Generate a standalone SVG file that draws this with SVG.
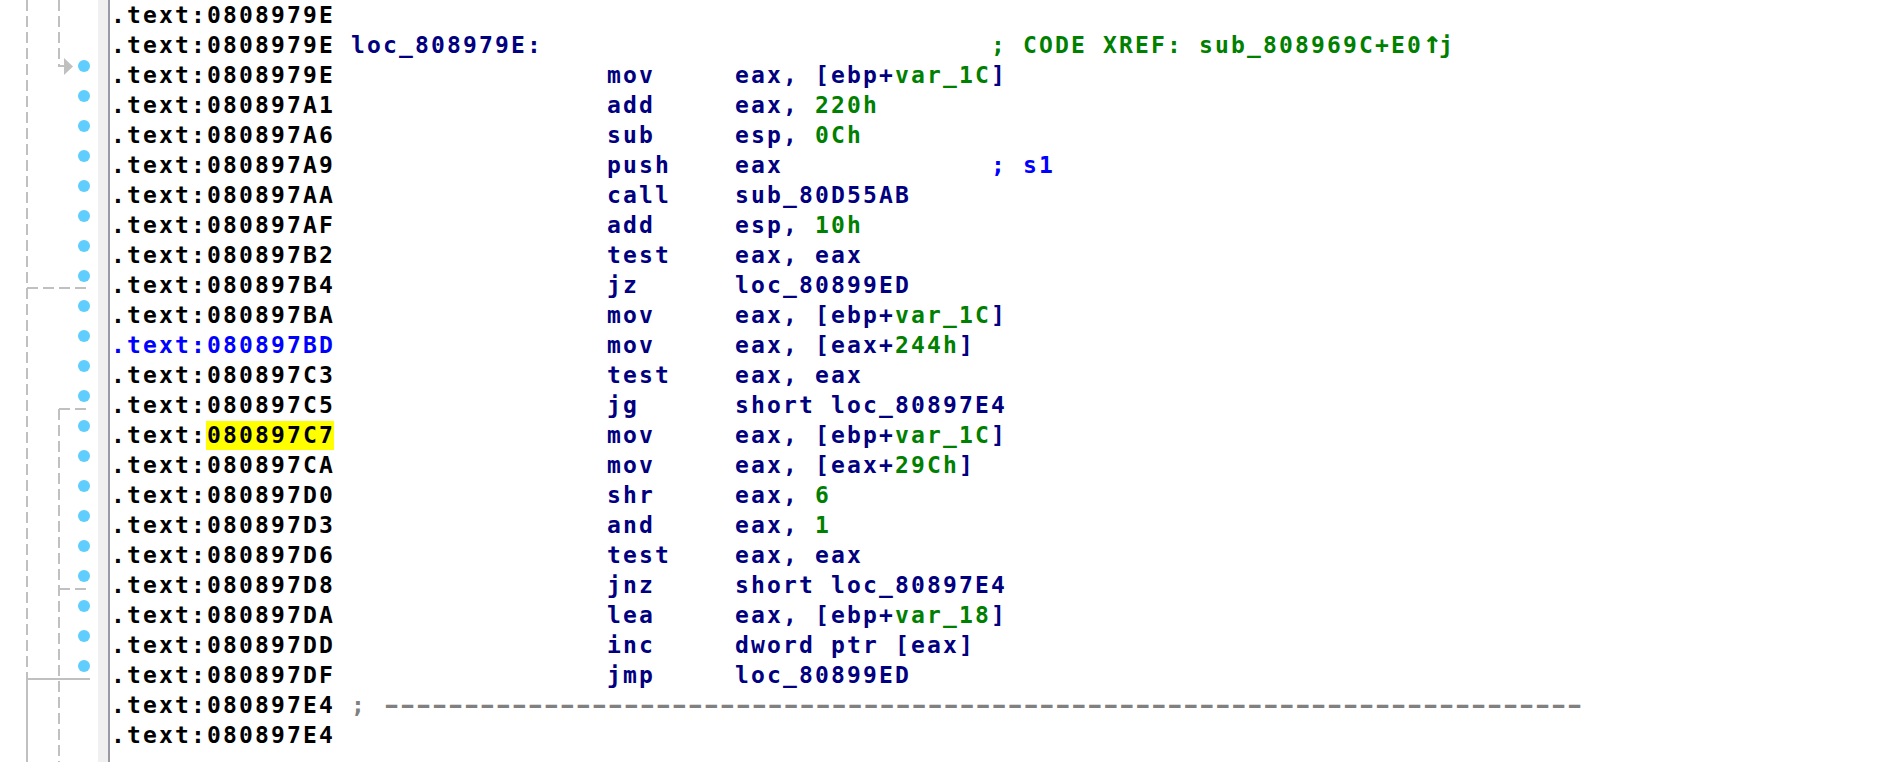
<svg xmlns="http://www.w3.org/2000/svg" width="1884" height="762" viewBox="0 0 1884 762">
<style>
text{font-family:"DejaVu Sans Mono","Liberation Mono",monospace;font-size:23px;font-weight:bold;letter-spacing:2.15px;white-space:pre}
.a{fill:#000000}
.n{fill:#000080}
.g{fill:#008000}
.b{fill:#0000ff}
.s{fill:#808080}
.up{font-size:31px;letter-spacing:-2.66px}
.sep{letter-spacing:-3.85px}
.dash{stroke:#c0c0c0;stroke-width:2;stroke-dasharray:11 5;fill:none}
.sol{stroke:#c0c0c0;stroke-width:2;fill:none}
.dot{fill:#5fcdfd}
</style>
<rect x="0" y="0" width="1884" height="762" fill="#ffffff"/>
<rect x="98" y="0" width="10" height="762" fill="#f0f0f0"/>
<line x1="109" y1="0" x2="109" y2="762" stroke="#9a9aa6" stroke-width="2"/>
<g id="connectors">
<line class="dash" x1="27" y1="0" x2="27" y2="679"/>
<line class="sol" x1="27" y1="679" x2="27" y2="762"/>
<line class="dash" x1="27" y1="288" x2="90" y2="288"/>
<line class="sol" x1="27" y1="679" x2="90" y2="679"/>
<line class="dash" x1="59" y1="0" x2="59" y2="66"/>
<line class="sol" x1="58" y1="66" x2="65" y2="66"/>
<polygon points="64,58 73,66.5 64,75" fill="#c0c0c0"/>
<line class="dash" x1="59" y1="409" x2="88" y2="409"/>
<line class="dash" x1="59" y1="409" x2="59" y2="762"/>
<line class="dash" x1="59" y1="589" x2="88" y2="589"/>
</g>
<g id="dots">
<circle class="dot" cx="84" cy="66" r="6"/>
<circle class="dot" cx="84" cy="96" r="6"/>
<circle class="dot" cx="84" cy="126" r="6"/>
<circle class="dot" cx="84" cy="156" r="6"/>
<circle class="dot" cx="84" cy="186" r="6"/>
<circle class="dot" cx="84" cy="216" r="6"/>
<circle class="dot" cx="84" cy="246" r="6"/>
<circle class="dot" cx="84" cy="276" r="6"/>
<circle class="dot" cx="84" cy="306" r="6"/>
<circle class="dot" cx="84" cy="336" r="6"/>
<circle class="dot" cx="84" cy="366" r="6"/>
<circle class="dot" cx="84" cy="396" r="6"/>
<circle class="dot" cx="84" cy="426" r="6"/>
<circle class="dot" cx="84" cy="456" r="6"/>
<circle class="dot" cx="84" cy="486" r="6"/>
<circle class="dot" cx="84" cy="516" r="6"/>
<circle class="dot" cx="84" cy="546" r="6"/>
<circle class="dot" cx="84" cy="576" r="6"/>
<circle class="dot" cx="84" cy="606" r="6"/>
<circle class="dot" cx="84" cy="636" r="6"/>
<circle class="dot" cx="84" cy="666" r="6"/>
</g>
<rect x="206" y="421" width="128" height="29" fill="#ffff00"/>
<g id="row0"><text class="a" x="111" y="23.3">.text:0808979E</text></g>
<g id="row1"><text class="a" x="111" y="53.3">.text:0808979E</text><text class="n" x="351" y="53.3">loc_808979E:</text><text class="g" x="991" y="53.3">; CODE XREF: sub_808969C+E0<tspan class="up">↑</tspan>j</text></g>
<g id="row2"><text class="a" x="111" y="83.3">.text:0808979E</text><text class="n" x="607" y="83.3">mov</text><text class="n" x="735" y="83.3">eax, [ebp+<tspan class="g">var_1C</tspan>]</text></g>
<g id="row3"><text class="a" x="111" y="113.3">.text:080897A1</text><text class="n" x="607" y="113.3">add</text><text class="n" x="735" y="113.3">eax, <tspan class="g">220h</tspan></text></g>
<g id="row4"><text class="a" x="111" y="143.3">.text:080897A6</text><text class="n" x="607" y="143.3">sub</text><text class="n" x="735" y="143.3">esp, <tspan class="g">0Ch</tspan></text></g>
<g id="row5"><text class="a" x="111" y="173.3">.text:080897A9</text><text class="n" x="607" y="173.3">push</text><text class="n" x="735" y="173.3">eax</text><text class="b" x="991" y="173.3">; s1</text></g>
<g id="row6"><text class="a" x="111" y="203.3">.text:080897AA</text><text class="n" x="607" y="203.3">call</text><text class="n" x="735" y="203.3">sub_80D55AB</text></g>
<g id="row7"><text class="a" x="111" y="233.3">.text:080897AF</text><text class="n" x="607" y="233.3">add</text><text class="n" x="735" y="233.3">esp, <tspan class="g">10h</tspan></text></g>
<g id="row8"><text class="a" x="111" y="263.3">.text:080897B2</text><text class="n" x="607" y="263.3">test</text><text class="n" x="735" y="263.3">eax, eax</text></g>
<g id="row9"><text class="a" x="111" y="293.3">.text:080897B4</text><text class="n" x="607" y="293.3">jz</text><text class="n" x="735" y="293.3">loc_80899ED</text></g>
<g id="row10"><text class="a" x="111" y="323.3">.text:080897BA</text><text class="n" x="607" y="323.3">mov</text><text class="n" x="735" y="323.3">eax, [ebp+<tspan class="g">var_1C</tspan>]</text></g>
<g id="row11"><text class="b" x="111" y="353.3">.text:080897BD</text><text class="n" x="607" y="353.3">mov</text><text class="n" x="735" y="353.3">eax, [eax+<tspan class="g">244h</tspan>]</text></g>
<g id="row12"><text class="a" x="111" y="383.3">.text:080897C3</text><text class="n" x="607" y="383.3">test</text><text class="n" x="735" y="383.3">eax, eax</text></g>
<g id="row13"><text class="a" x="111" y="413.3">.text:080897C5</text><text class="n" x="607" y="413.3">jg</text><text class="n" x="735" y="413.3">short loc_80897E4</text></g>
<g id="row14"><text class="a" x="111" y="443.3">.text:080897C7</text><text class="n" x="607" y="443.3">mov</text><text class="n" x="735" y="443.3">eax, [ebp+<tspan class="g">var_1C</tspan>]</text></g>
<g id="row15"><text class="a" x="111" y="473.3">.text:080897CA</text><text class="n" x="607" y="473.3">mov</text><text class="n" x="735" y="473.3">eax, [eax+<tspan class="g">29Ch</tspan>]</text></g>
<g id="row16"><text class="a" x="111" y="503.3">.text:080897D0</text><text class="n" x="607" y="503.3">shr</text><text class="n" x="735" y="503.3">eax, <tspan class="g">6</tspan></text></g>
<g id="row17"><text class="a" x="111" y="533.3">.text:080897D3</text><text class="n" x="607" y="533.3">and</text><text class="n" x="735" y="533.3">eax, <tspan class="g">1</tspan></text></g>
<g id="row18"><text class="a" x="111" y="563.3">.text:080897D6</text><text class="n" x="607" y="563.3">test</text><text class="n" x="735" y="563.3">eax, eax</text></g>
<g id="row19"><text class="a" x="111" y="593.3">.text:080897D8</text><text class="n" x="607" y="593.3">jnz</text><text class="n" x="735" y="593.3">short loc_80897E4</text></g>
<g id="row20"><text class="a" x="111" y="623.3">.text:080897DA</text><text class="n" x="607" y="623.3">lea</text><text class="n" x="735" y="623.3">eax, [ebp+<tspan class="g">var_18</tspan>]</text></g>
<g id="row21"><text class="a" x="111" y="653.3">.text:080897DD</text><text class="n" x="607" y="653.3">inc</text><text class="n" x="735" y="653.3">dword ptr [eax]</text></g>
<g id="row22"><text class="a" x="111" y="683.3">.text:080897DF</text><text class="n" x="607" y="683.3">jmp</text><text class="n" x="735" y="683.3">loc_80899ED</text></g>
<g id="row23"><text class="a" x="111" y="713.3">.text:080897E4</text><text class="s" x="351" y="713.3">;</text><text class="s sep" transform="scale(1.6,1)" x="237.8" y="713.3">---------------------------------------------------------------------------</text></g>
<g id="row24"><text class="a" x="111" y="743.3">.text:080897E4</text></g>
</svg>
